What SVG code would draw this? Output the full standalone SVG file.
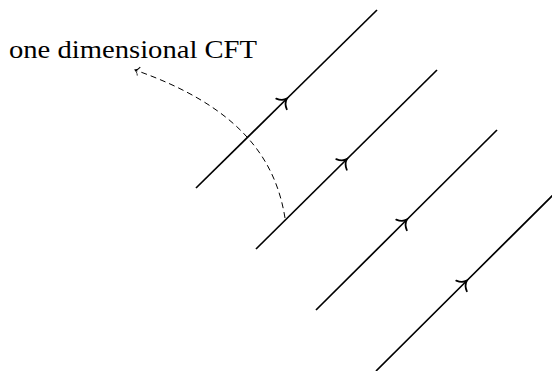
<svg xmlns="http://www.w3.org/2000/svg" width="552" height="371" viewBox="0 0 552 371">
<style>
.wl{fill:none;stroke:#000;stroke-width:1.7;marker-mid:url(#to)}
.dash{fill:none;stroke:#000;stroke-width:1;stroke-dasharray:6 4;marker-end:url(#tos)}
.lbl{font-family:"Liberation Serif","DejaVu Serif",serif;font-size:25px;fill:#000}
</style>
<defs>
<marker id="to" viewBox="-10 -10 20 20" markerWidth="20" markerHeight="20" refX="0" refY="0" orient="auto" markerUnits="userSpaceOnUse">
<path d="M-7,-7.5 C-5,-2.5 -1.5,-0.6 0.5,0 C-1.5,0.6 -5,2.5 -7,7.5" fill="none" stroke="#000" stroke-width="1.8" stroke-linecap="round"/>
</marker>
<marker id="tos" viewBox="-6 -6 12 12" markerWidth="12" markerHeight="12" refX="0" refY="0" orient="auto" markerUnits="userSpaceOnUse">
<path d="M-4,-4.5 C-3,-1.5 -0.7,-0.3 0,0 C-0.7,0.3 -3,1.5 -4,4.5" fill="none" stroke="#000" stroke-width="1"/>
</marker>
</defs>
<rect width="552" height="371" fill="#fff"/>
<g id="line1"><path class="wl" d="M196,188 L286.5,99 L377,10"/></g>
<g id="line2"><path class="wl" d="M256,249 L346.5,159.5 L437,70"/></g>
<g id="line3"><path class="wl" d="M316,310 L406.5,220 L497,130"/></g>
<g id="line4"><path class="wl" d="M376,371 L466.5,281 L557,191"/></g>
<g id="label"><text class="lbl" x="9" y="58" textLength="248" lengthAdjust="spacingAndGlyphs">one dimensional CFT</text></g>
<g id="connectors"><path class="dash" d="M285,218 C275,155 235,105 135,70"/></g>
</svg>
